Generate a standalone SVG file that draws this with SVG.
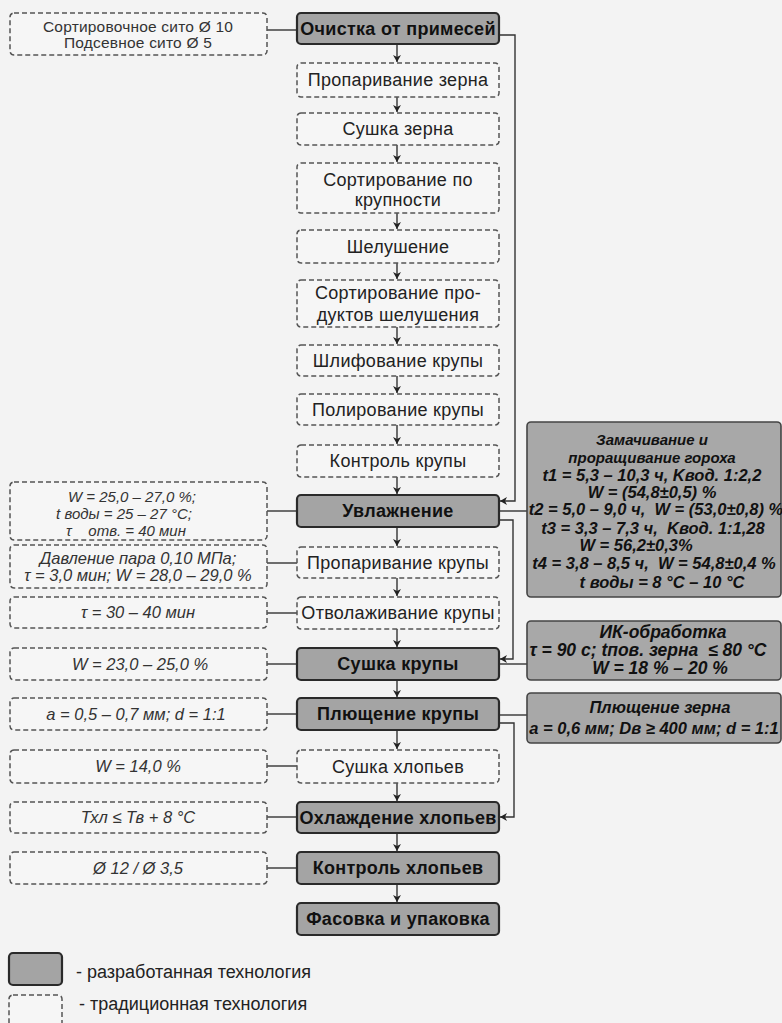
<svg xmlns="http://www.w3.org/2000/svg" width="782" height="1023" viewBox="0 0 782 1023">
<defs>
<marker id="ah" markerWidth="8" markerHeight="8" refX="7" refY="4" orient="auto" markerUnits="userSpaceOnUse">
<path d="M0,0 L7,4 L0,8 L2,4 Z" fill="#222"/>
</marker>
</defs>
<style>
.dev{fill:#a4a4a4;stroke:#2a2a2a;stroke-width:2.2}
.trad{fill:#f6f6f6;stroke:#555;stroke-width:1.5;stroke-dasharray:5 3}
.par{fill:#f6f6f6;stroke:#555;stroke-width:1.5;stroke-dasharray:5 3}
.rbox{fill:#a8a8a8;stroke:#444;stroke-width:1.6}
.t{font-family:"Liberation Sans",Arial,sans-serif;font-size:18px;letter-spacing:0.3px;fill:#222;text-anchor:middle}
.b{font-weight:bold;fill:#111}
.p{font-family:"Liberation Sans",Arial,sans-serif;font-size:16.5px;font-style:italic;fill:#333;text-anchor:middle}
.p2{font-size:15px}
.s{font-family:"Liberation Sans",Arial,sans-serif;font-size:15.5px;letter-spacing:0.2px;fill:#333;text-anchor:middle}
.r{font-family:"Liberation Sans",Arial,sans-serif;font-size:16.5px;font-style:italic;font-weight:bold;fill:#111;text-anchor:middle}
.rh{font-size:15px}
.rk{font-size:17.5px}
.l{font-family:"Liberation Sans",Arial,sans-serif;font-size:18px;fill:#222}
.c{fill:none;stroke:#333;stroke-width:1.4}
</style>
<rect width="782" height="1023" fill="#f3f3f3"/>

<g id="connectors">
<line class="c" x1="397" y1="44" x2="397" y2="62" marker-end="url(#ah)"/>
<line class="c" x1="397" y1="97" x2="397" y2="112" marker-end="url(#ah)"/>
<line class="c" x1="397" y1="145" x2="397" y2="162" marker-end="url(#ah)"/>
<line class="c" x1="397" y1="213" x2="397" y2="229" marker-end="url(#ah)"/>
<line class="c" x1="397" y1="263" x2="397" y2="279" marker-end="url(#ah)"/>
<line class="c" x1="397" y1="327" x2="397" y2="344" marker-end="url(#ah)"/>
<line class="c" x1="397" y1="376" x2="397" y2="393" marker-end="url(#ah)"/>
<line class="c" x1="397" y1="425" x2="397" y2="444" marker-end="url(#ah)"/>
<line class="c" x1="397" y1="477" x2="397" y2="494" marker-end="url(#ah)"/>
<line class="c" x1="397" y1="527" x2="397" y2="546" marker-end="url(#ah)"/>
<line class="c" x1="397" y1="578" x2="397" y2="596" marker-end="url(#ah)"/>
<line class="c" x1="397" y1="629" x2="397" y2="647" marker-end="url(#ah)"/>
<line class="c" x1="397" y1="680" x2="397" y2="697" marker-end="url(#ah)"/>
<line class="c" x1="397" y1="730" x2="397" y2="749" marker-end="url(#ah)"/>
<line class="c" x1="397" y1="783" x2="397" y2="801" marker-end="url(#ah)"/>
<line class="c" x1="397" y1="833" x2="397" y2="851" marker-end="url(#ah)"/>
<line class="c" x1="397" y1="884" x2="397" y2="902" marker-end="url(#ah)"/>
<polyline class="c" points="499,35 515,35 515,501 500,501" marker-end="url(#ah)"/>
<polyline class="c" points="499,520 513,520 513,659 500,659" marker-end="url(#ah)"/>
<polyline class="c" points="499,723 514,723 514,817 500,817" marker-end="url(#ah)"/>
<line class="c" x1="499" y1="511" x2="527" y2="511"/>
<line class="c" x1="499" y1="664" x2="527" y2="664"/>
<line class="c" x1="499" y1="715" x2="527" y2="715"/>
<line class="c" x1="267" y1="30" x2="297" y2="30"/>
<line class="c" x1="267" y1="511" x2="297" y2="511"/>
<line class="c" x1="267" y1="563" x2="297" y2="563"/>
<line class="c" x1="267" y1="613" x2="297" y2="613"/>
<line class="c" x1="267" y1="664" x2="297" y2="664"/>
<line class="c" x1="267" y1="714" x2="297" y2="714"/>
<line class="c" x1="267" y1="766" x2="297" y2="766"/>
<line class="c" x1="267" y1="817" x2="297" y2="817"/>
<line class="c" x1="267" y1="868" x2="297" y2="868"/>
</g>

<g id="n1"><rect class="dev" x="297" y="13" width="202" height="31" rx="4"/><text class="t b" x="398" y="35">Очистка от примесей</text></g>
<g id="n2"><rect class="trad" x="297" y="63" width="202" height="34" rx="4"/><text class="t" x="398" y="86">Пропаривание зерна</text></g>
<g id="n3"><rect class="trad" x="297" y="113" width="202" height="32" rx="4"/><text class="t" x="398" y="135">Сушка зерна</text></g>
<g id="n4"><rect class="trad" x="297" y="163" width="202" height="50" rx="4"/><text class="t" x="398" y="186">Сортирование по</text><text class="t" x="398" y="206">крупности</text></g>
<g id="n5"><rect class="trad" x="297" y="230" width="202" height="33" rx="4"/><text class="t" x="398" y="253">Шелушение</text></g>
<g id="n6"><rect class="trad" x="297" y="280" width="202" height="47" rx="4"/><text class="t" x="398" y="299">Сортирование про-</text><text class="t" x="398" y="321">дуктов шелушения</text></g>
<g id="n7"><rect class="trad" x="297" y="345" width="202" height="31" rx="4"/><text class="t" x="398" y="367">Шлифование крупы</text></g>
<g id="n8"><rect class="trad" x="297" y="394" width="202" height="31" rx="4"/><text class="t" x="398" y="416">Полирование крупы</text></g>
<g id="n9"><rect class="trad" x="297" y="445" width="202" height="32" rx="4"/><text class="t" x="398" y="467">Контроль крупы</text></g>
<g id="n10"><rect class="dev" x="297" y="495" width="202" height="32" rx="4"/><text class="t b" x="398" y="517">Увлажнение</text></g>
<g id="n11"><rect class="trad" x="297" y="547" width="202" height="31" rx="4"/><text class="t" x="398" y="569">Пропаривание крупы</text></g>
<g id="n12"><rect class="trad" x="297" y="597" width="202" height="32" rx="4"/><text class="t" x="398" y="619">Отволаживание крупы</text></g>
<g id="n13"><rect class="dev" x="297" y="648" width="202" height="32" rx="4"/><text class="t b" x="398" y="670">Сушка крупы</text></g>
<g id="n14"><rect class="dev" x="297" y="698" width="202" height="32" rx="4"/><text class="t b" x="398" y="720">Плющение крупы</text></g>
<g id="n15"><rect class="trad" x="297" y="750" width="202" height="33" rx="4"/><text class="t" x="398" y="773">Сушка хлопьев</text></g>
<g id="n16"><rect class="dev" x="297" y="802" width="202" height="31" rx="4"/><text class="t b" x="398" y="824">Охлаждение хлопьев</text></g>
<g id="n17"><rect class="dev" x="297" y="852" width="202" height="32" rx="4"/><text class="t b" x="398" y="874">Контроль хлопьев</text></g>
<g id="n18"><rect class="dev" x="297" y="903" width="202" height="32" rx="4"/><text class="t b" x="398" y="925">Фасовка и упаковка</text></g>

<g id="p1"><rect class="par" x="10" y="13" width="257" height="42" rx="4"/><text class="s" x="138" y="32">Сортировочное сито Ø 10</text><text class="s" x="138" y="48">Подсевное сито Ø 5</text></g>
<g id="p2"><rect class="par" x="10" y="482" width="257" height="58" rx="4"/><text class="p p2" x="132" y="502">W = 25,0 – 27,0 %;</text><text class="p p2" x="124" y="519">t воды = 25 – 27 °C;</text><text class="p p2" x="126" y="536" xml:space="preserve">τ    отв. = 40 мин</text></g>
<g id="p3"><rect class="par" x="10" y="545" width="257" height="43" rx="4"/><text class="p" x="138" y="564">Давление пара 0,10 МПа;</text><text class="p" x="138" y="581">τ = 3,0 мин; W = 28,0 – 29,0 %</text></g>
<g id="p4"><rect class="par" x="10" y="597" width="257" height="31" rx="4"/><text class="p" x="138" y="618">τ = 30 – 40 мин</text></g>
<g id="p5"><rect class="par" x="10" y="648" width="257" height="32" rx="4"/><text class="p" x="140" y="670">W = 23,0 – 25,0 %</text></g>
<g id="p6"><rect class="par" x="10" y="698" width="257" height="32" rx="4"/><text class="p" x="136" y="720">a = 0,5 – 0,7 мм; d = 1:1</text></g>
<g id="p7"><rect class="par" x="10" y="750" width="257" height="33" rx="4"/><text class="p" x="138" y="772">W = 14,0 %</text></g>
<g id="p8"><rect class="par" x="10" y="802" width="257" height="31" rx="4"/><text class="p" x="138" y="823">Тхл ≤ Тв + 8 °С</text></g>
<g id="p9"><rect class="par" x="10" y="852" width="257" height="32" rx="4"/><text class="p" x="138" y="874">Ø 12 / Ø 3,5</text></g>

<g id="r1"><rect class="rbox" x="527" y="422" width="254" height="175" rx="4"/>
<text class="r rh" x="652" y="445">Замачивание и</text>
<text class="r rh" x="652" y="463">проращивание гороха</text>
<text class="r" x="652" y="481">t1 = 5,3 – 10,3 ч, Kвод. 1:2,2</text>
<text class="r" x="652" y="498">W = (54,8±0,5) %</text>
<text class="r" x="656" y="515" xml:space="preserve">t2 = 5,0 – 9,0 ч,  W = (53,0±0,8) %</text>
<text class="r" x="653" y="534" xml:space="preserve">t3 = 3,3 – 7,3 ч,  Kвод. 1:1,28</text>
<text class="r" x="636" y="551">W = 56,2±0,3%</text>
<text class="r" x="654" y="569" xml:space="preserve">t4 = 3,8 – 8,5 ч,  W = 54,8±0,4 %</text>
<text class="r" x="662" y="588">t воды = 8 °С – 10 °С</text></g>
<g id="r2"><rect class="rbox" x="527" y="621" width="254" height="59" rx="4"/>
<text class="r rk" x="663" y="638">ИК-обработка</text>
<text class="r rk" x="648" y="656" xml:space="preserve">τ = 90 c; tпов. зерна  ≤ 80 °С</text>
<text class="r rk" x="660" y="674">W = 18 % – 20 %</text></g>
<g id="r3"><rect class="rbox" x="527" y="693" width="254" height="50" rx="4"/>
<text class="r" x="660" y="713">Плющение зерна</text>
<text class="r" x="654" y="734">a = 0,6 мм; Dв ≥ 400 мм; d = 1:1</text></g>

<g id="legend">
<rect class="dev" x="9" y="953" width="53" height="32" rx="4"/>
<text class="l" x="76" y="978">- разработанная технология</text>
<rect class="trad" x="9" y="995" width="53" height="34" rx="4"/>
<text class="l" x="79" y="1010">- традиционная технология</text>
</g>
</svg>
